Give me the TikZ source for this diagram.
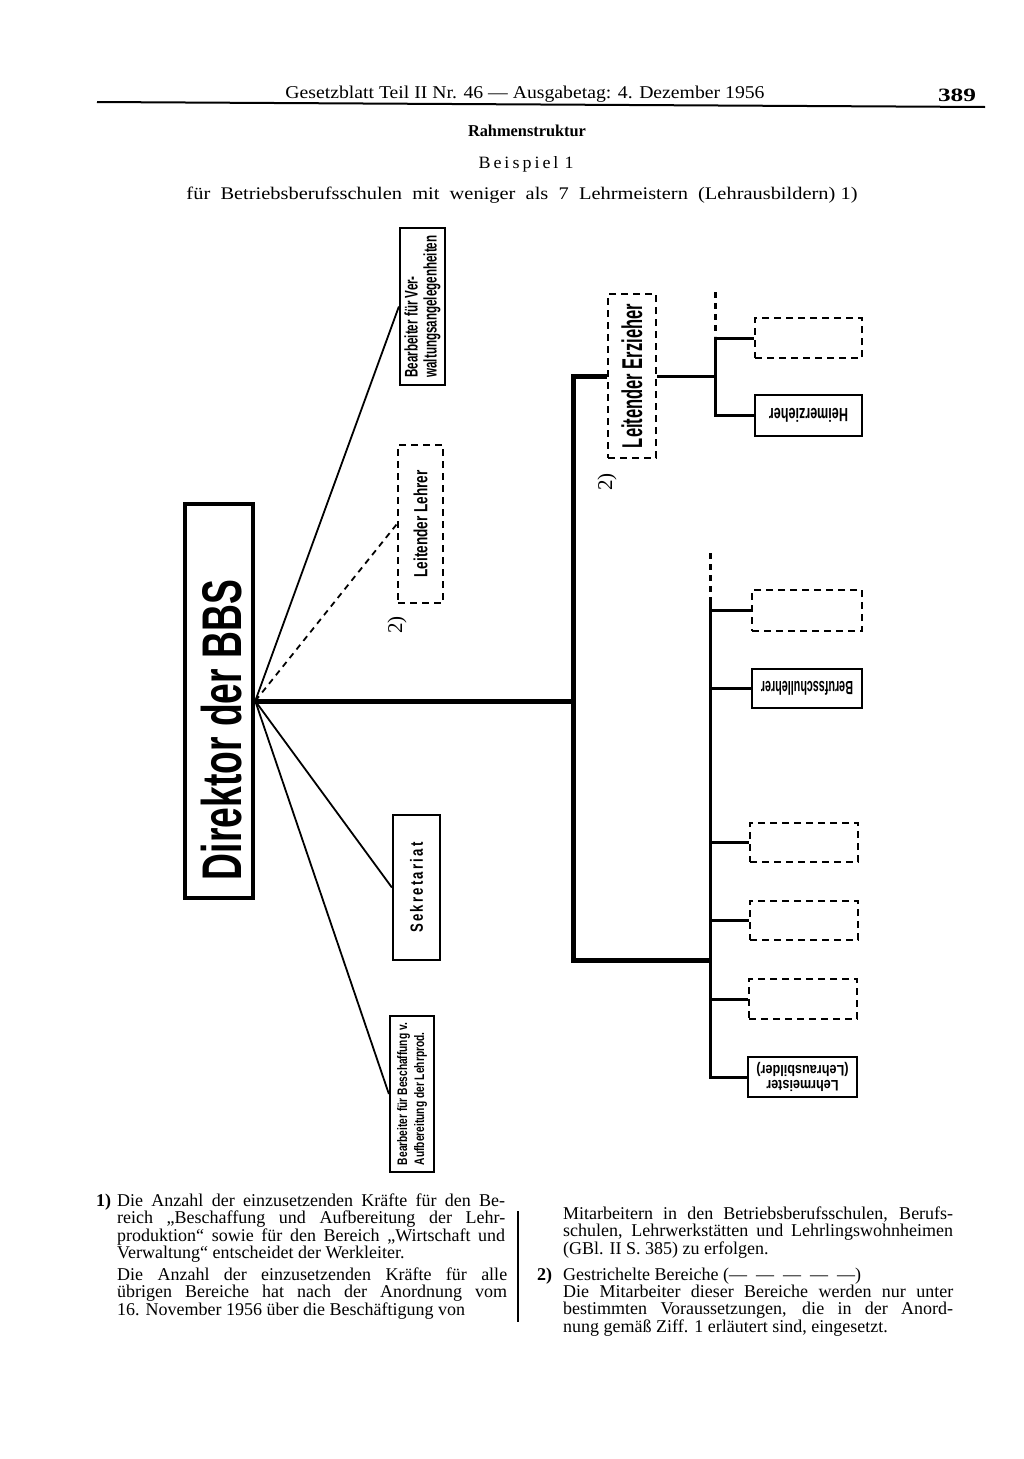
\documentclass[tikz,border=0pt]{standalone}
\usepackage{fontspec}
\usepackage{graphicx}
\setmainfont{Liberation Serif}
\newfontfamily\orgfont{Liberation Sans}

% labels stretched to the size they have in the print
\newcommand{\uplbl}[3]{\rotatebox{90}{\resizebox*{#1}{#2}{\orgfont\bfseries #3}}}
\newcommand{\downlbl}[3]{\rotatebox{180}{\resizebox*{#1}{#2}{\orgfont\bfseries #3}}}
\newcommand{\fitline}[3]{\resizebox{#1}{#2}{#3}}

\begin{document}
\begin{tikzpicture}[
    x=1pt, y=-1pt,
    every node/.style={inner sep=0pt},
    orgbox/.style={draw, line width=2.2pt},
    optbox/.style={draw, line width=2.2pt, dash pattern=on 7pt off 5pt},
    tallbox/.style={minimum width=45pt, minimum height=157pt},
    flatbox/.style={minimum width=107pt, minimum height=40pt},
    mainline/.style={line width=5pt},
    subline/.style={line width=3pt},
    fanline/.style={line width=1.8pt},
    optline/.style={line width=3pt, dash pattern=on 6pt off 5pt},
    fn/.style={anchor=base west, text width=#1, align=justify,
               font=\fontsize{18}{17.5}\selectfont},
    fnnum/.style={anchor=base west, font=\fontsize{18}{17.5}\selectfont},
    note/.style={rotate=90, font=\fontsize{21}{21}\selectfont}
]
    \useasboundingbox (0,0) rectangle (1024,1459);

    % page head
    \node[anchor=base] (kopf) at (525,98)
        {\fitline{479pt}{12.5pt}{Gesetzblatt Teil II Nr. 46 — Ausgabetag: 4. Dezember 1956}};
    \node[anchor=base] (seite) at (957,101) {\fitline{38pt}{12.5pt}{\bfseries 389}};
    \draw[line width=2pt] (97,102) coordinate (kopfl) -- (985,107) coordinate (kopfr);
    \node[anchor=base] (titel) at (527,136) {\fitline{118pt}{11.5pt}{\bfseries Rahmenstruktur}};
    \node[anchor=base] (beisp) at (526,168) {\fitline{95pt}{12pt}{B\,e\,i\,s\,p\,i\,e\,l\,\,1}};
    \node[anchor=base] (unter) at (522,199)
        {\fitline{671pt}{12.5pt}{für\ \ Betriebsberufsschulen\ \ mit\ \ weniger\ \ als\ \ 7\ \ Lehrmeistern\ \ (Lehrausbildern)\ 1)}};

    % director
    \node[orgbox, line width=4.5pt, minimum width=68pt, minimum height=394pt] (dir) at (219,701) {};
    \node (dirlbl) at (222,730) {\uplbl{300pt}{41pt}{Direktor der BBS}};

    % staff boxes on the fan
    \node[orgbox, tallbox] (verw) at (422.5,306.5)
        {\uplbl{142pt}{36pt}{\shortstack[l]{Bearbeiter für Ver-\\waltungsangelegenheiten}}};
    \node[optbox, tallbox, minimum height=158pt] (lehrer) at (420.5,524)
        {\uplbl{107pt}{14pt}{Leitender Lehrer}};
    \node[orgbox, tallbox, minimum width=47pt, minimum height=145pt] (sekr) at (416.5,887.5)
        {\uplbl{90pt}{13pt}{S\,e\,k\,r\,e\,t\,a\,r\,i\,a\,t}};
    \node[orgbox, tallbox, minimum width=44pt, minimum height=156pt] (besch) at (412,1094)
        {\uplbl{142pt}{30pt}{\shortstack[l]{Bearbeiter für Beschaffung v.\\Aufbereitung der Lehrprod.}}};
    \node[note] (note2a) at (397,625) {2)};

    % educator branch
    \node[optbox, minimum width=48pt, minimum height=164pt] (erz) at (632,376)
        {\uplbl{144pt}{21pt}{Leitender Erzieher}};
    \node[note] (note2b) at (607,482) {2)};
    \node[optbox, flatbox] (opt1) at (808.5,338) {};
    \node[orgbox, flatbox, minimum height=41pt] (heim) at (808.5,415.5)
        {\downlbl{79pt}{14pt}{Heimerzieher}};

    % school branch
    \node[optbox, flatbox, minimum width=110pt, minimum height=41pt] (opt2) at (807,610.5) {};
    \node[orgbox, flatbox, minimum width=110pt, minimum height=39pt] (beruf) at (807,688.5)
        {\downlbl{92pt}{14pt}{Berufsschullehrer}};
    \node[optbox, flatbox, minimum width=108pt, minimum height=39pt] (opt3) at (804,842.5) {};
    \node[optbox, flatbox, minimum width=108pt, minimum height=39pt] (opt4) at (804,920.5) {};
    \node[optbox, flatbox, minimum width=108pt] (opt5) at (803,999) {};
    \node[orgbox, flatbox, minimum width=109pt] (lehrm) at (802.5,1077)
        {\downlbl{92pt}{30pt}{\shortstack{Lehrmeister\\(Lehrausbilder)}}};

    % connectors
    \coordinate (spinebot) at (573,960);
    \coordinate (uptop) at (715,292);
    \coordinate (lowtop) at (710,553);
    \coordinate (lowsolid) at (710,598);
    \draw[fanline] (dir.east) -- (verw.west);
    \draw[fanline, dash pattern=on 6pt off 5pt] (dir.east) -- (lehrer.west);
    \draw[fanline] (dir.east) -- (sekr.west);
    \draw[fanline] (dir.east) -- (besch.west);
    \draw[mainline] (dir.east) -- (dir.east -| spinebot);
    \draw[mainline] (erz.west) -| (spinebot) -- (spinebot -| lowtop);

    \draw[subline] (erz.east) -- (erz.east -| uptop);
    \draw[optline] (uptop) -- ++(0,44);
    \draw[subline] (opt1.west) -| (heim.west -| uptop) -- (heim.west);

    \draw[optline] (lowtop) -- (lowsolid);
    \draw[subline] (lowsolid) -- (lehrm.west -| lowtop) -- (lehrm.west);
    \foreach \b in {opt2,beruf,opt3,opt4,opt5}
        \draw[subline] (\b.west -| lowtop) -- (\b.west);

    % footnotes
    \node[fnnum] (fn1num) at (96,1206) {\bfseries 1)};
    \node[fn=388pt] (fn1a) at (117,1206)
        {Die Anzahl der einzusetzenden Kräfte für den Be-\linebreak
         reich „Beschaffung und Aufbereitung der Lehr-\linebreak
         produktion“ sowie für den Bereich „Wirtschaft und\linebreak
         Verwaltung“ entscheidet der Werkleiter.};
    \node[fn=390pt] (fn1b) at (117,1280)
        {\parfillskip=0pt Die Anzahl der einzusetzenden Kräfte für alle\linebreak
         übrigen Bereiche hat nach der Anordnung vom\linebreak
         16. November 1956 über die Beschäftigung von};
    \draw[line width=1.2pt] (518,1211) coordinate (spalt1) -- (518,1322) coordinate (spalt2);
    \node[fn=390pt] (fn1c) at (563,1219)
        {Mitarbeitern in den Betriebsberufsschulen, Berufs-\linebreak
         schulen, Lehrwerkstätten und Lehrlingswohnheimen\linebreak
         (GBl. II S. 385) zu erfolgen.};
    \node[fnnum] (fn2num) at (537,1280) {\bfseries 2)};
    \node[fnnum] (fn2a) at (563,1280)
        {Gestrichelte Bereiche (—\enspace—\enspace—\enspace—\enspace—)};
    \node[fn=390pt] (fn2b) at (563,1297)
        {Die Mitarbeiter dieser Bereiche werden nur unter\linebreak
         bestimmten Voraussetzungen, die in der Anord-\linebreak
         nung gemäß Ziff. 1 erläutert sind, eingesetzt.};
\end{tikzpicture}
\end{document}
